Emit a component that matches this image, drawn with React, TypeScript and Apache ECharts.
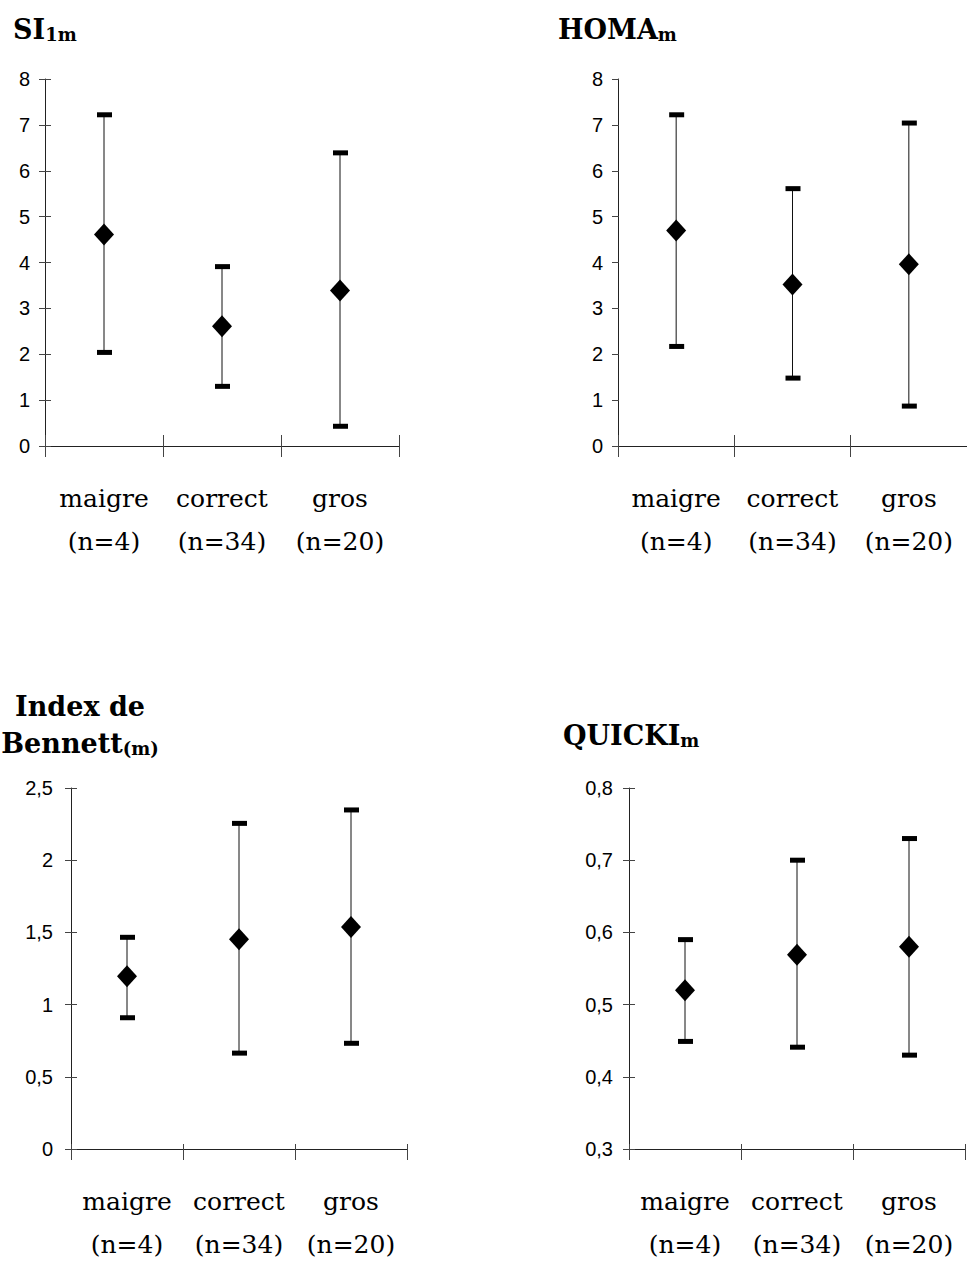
import React, { useEffect, useRef } from "react";
import * as echarts from "echarts";

const categories = ["maigre", "correct", "gros"];
const counts = ["(n=4)", "(n=34)", "(n=20)"];

const siMean = [4.61, 2.61, 3.39];
const siLow = [2.04, 1.3, 0.43];
const siHigh = [7.22, 3.91, 6.39];

const homaMean = [4.7, 3.52, 3.96];
const homaLow = [2.17, 1.48, 0.87];
const homaHigh = [7.22, 5.61, 7.04];

const bennettMean = [1.197, 1.453, 1.537];
const bennettLow = [0.909, 0.664, 0.732];
const bennettHigh = [1.466, 2.255, 2.348];

const quickiMean = [0.52, 0.569, 0.58];
const quickiLow = [0.449, 0.441, 0.43];
const quickiHigh = [0.59, 0.7, 0.73];

const panels = [
  { mean: siMean, low: siLow, high: siHigh, min: 0, max: 8, interval: 1, grid: { left: 45, top: 79, width: 354, height: 367 }, labelMargin: 15, fmt: (v: number) => String(v) },
  { mean: homaMean, low: homaLow, high: homaHigh, min: 0, max: 8, interval: 1, grid: { left: 618, top: 79, width: 354, height: 367 }, labelMargin: 15, fmt: (v: number) => String(v) },
  { mean: bennettMean, low: bennettLow, high: bennettHigh, min: 0, max: 2.5, interval: 0.5, grid: { left: 71, top: 788, width: 336, height: 367 }, labelMargin: 18, fmt: (v: number) => String(Math.round(v * 10) / 10).replace(".", ",") },
  { mean: quickiMean, low: quickiLow, high: quickiHigh, min: 0.3, max: 0.8, interval: 0.1, grid: { left: 629, top: 788, width: 336, height: 367 }, labelMargin: 16, fmt: (v: number) => (Math.round(v * 10) / 10).toFixed(1).replace(".", ",") },
];

const AXIS = "#222";
const TICK = "#444";
const SERIF = "'DejaVu Serif', serif";
const SANS = "'Liberation Sans', Arial, sans-serif";

export default function App() {
  const ref = useRef<HTMLDivElement>(null);
  useEffect(() => {
    if (!ref.current) return;
    const chart = echarts.init(ref.current, undefined, { renderer: "svg" });
    const grid: any[] = [];
    const xAxis: any[] = [];
    const yAxis: any[] = [];
    const series: any[] = [];
    panels.forEach((p, i) => {
      grid.push({ ...p.grid, containLabel: false });
      xAxis.push({
        type: "category", gridIndex: i, data: categories, position: "bottom",
        axisLine: { show: true, lineStyle: { color: AXIS, width: 1 } },
        axisTick: { show: true, interval: 0, length: 11, lineStyle: { color: TICK } },
        axisLabel: {
          interval: 0, hideOverlap: false,
          margin: 31, lineHeight: 43, fontFamily: SERIF, fontSize: 25, color: "#000",
          formatter: (v: string) => v + "\n" + counts[categories.indexOf(v)],
        },
        splitLine: { show: false },
      });
      xAxis.push({
        type: "category", gridIndex: i, data: categories, position: "top", offset: -p.grid.height,
        axisLine: { show: false },
        axisTick: { show: true, interval: 0, length: 11, lineStyle: { color: TICK } },
        axisLabel: { show: false, interval: 0 },
        splitLine: { show: false },
      });
      yAxis.push({
        type: "value", gridIndex: i, min: p.min, max: p.max, interval: p.interval, position: "left",
        axisLine: { show: true, lineStyle: { color: AXIS, width: 1 } },
        axisTick: { show: true, length: 6, lineStyle: { color: TICK } },
        axisLabel: { margin: p.labelMargin, fontFamily: SANS, fontSize: 20, color: "#000", formatter: p.fmt },
        splitLine: { show: false },
      });
      yAxis.push({
        type: "value", gridIndex: i, min: p.min, max: p.max, interval: p.interval, position: "right", offset: -p.grid.width,
        axisLine: { show: false },
        axisTick: { show: true, length: 6, lineStyle: { color: TICK } },
        axisLabel: { show: false },
        splitLine: { show: false },
      });
      series.push({
        type: "custom", xAxisIndex: 2 * i, yAxisIndex: 2 * i,
        data: categories.map((_, k) => [k, p.low[k], p.high[k]]),
        encode: { x: 0, y: [1, 2] },
        renderItem: (params: any, api: any) => {
          const x = api.value(0);
          const top = api.coord([x, api.value(2)]);
          const bot = api.coord([x, api.value(1)]);
          return {
            type: "group",
            children: [
              { type: "line", shape: { x1: top[0], y1: top[1], x2: bot[0], y2: bot[1] }, style: { stroke: "#111", lineWidth: 1 } },
              { type: "rect", shape: { x: top[0] - 7, y: top[1] - 2.5, width: 15, height: 5 }, style: { fill: "#000" } },
              { type: "rect", shape: { x: bot[0] - 7, y: bot[1] - 2.5, width: 15, height: 5 }, style: { fill: "#000" } },
            ],
          };
        },
        z: 2,
      });
      series.push({
        type: "scatter", xAxisIndex: 2 * i, yAxisIndex: 2 * i,
        data: categories.map((c, k) => [k, p.mean[k]]),
        symbol: "diamond", symbolSize: [20, 22],
        itemStyle: { color: "#000", opacity: 1 },
        z: 3,
      });
    });

    const titleRich = {
      a: { fontFamily: SERIF, fontWeight: "bold", fontSize: 27, lineHeight: 37, color: "#000", verticalAlign: "bottom" },
      b: { fontFamily: SERIF, fontWeight: "bold", fontSize: 18, lineHeight: 20, color: "#000", verticalAlign: "bottom" },
    };
    const graphic = [
      { type: "text", x: 13, y: 6, style: { text: "{a|SI}{b|1m}", rich: titleRich } },
      { type: "text", x: 558, y: 6, style: { text: "{a|HOMA}{b|m}", rich: titleRich } },
      { type: "text", x: 80, y: 683, style: { text: "{a|Index de}\n{a|Bennett}{b|(m)}", rich: titleRich, align: "center" } },
      { type: "text", x: 563, y: 712, style: { text: "{a|QUICKI}{b|m}", rich: titleRich } },
    ];

    chart.setOption({ animation: false, grid, xAxis, yAxis, series, graphic });
    return () => chart.dispose();
  }, []);
  return <div ref={ref} style={{ position: "absolute", left: 0, top: 0, width: 967, height: 1266, background: "#fff" }} />;
}
